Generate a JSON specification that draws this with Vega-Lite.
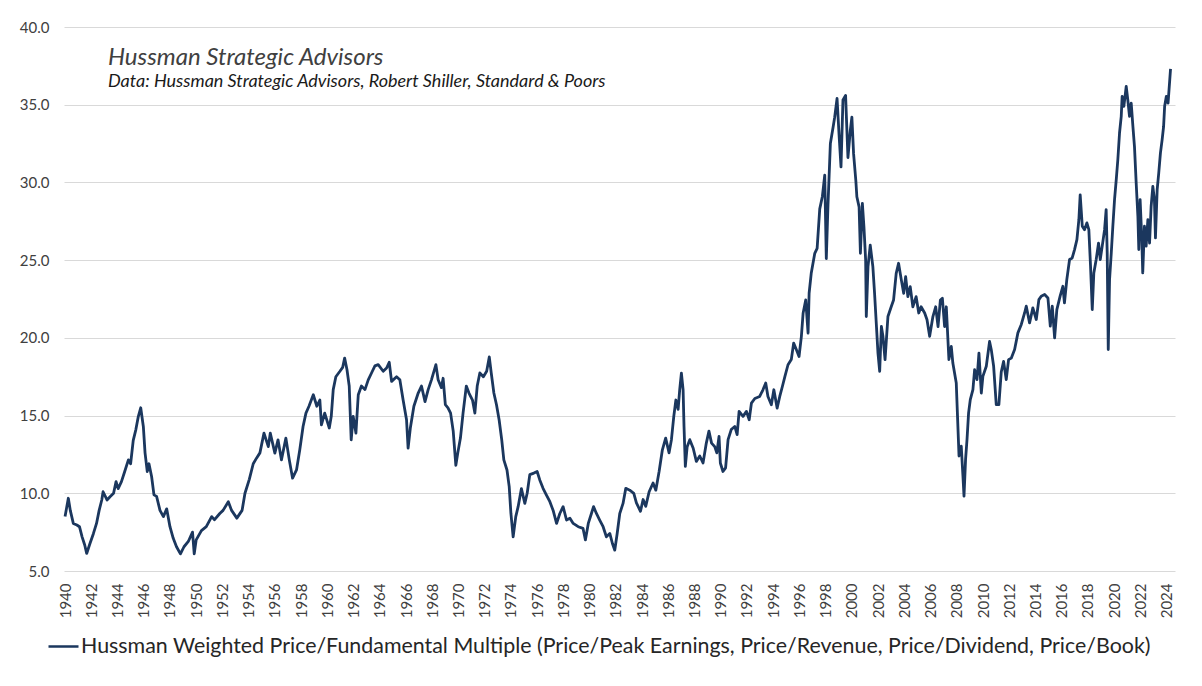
{
  "$schema": "https://vega.github.io/schema/vega-lite/v6.json",
  "width": 1111,
  "height": 544,
  "autosize": "none",
  "padding": {"left": 64, "top": 27, "right": 27, "bottom": 115},
  "background": "white",
  "config": {
    "font": "Lato",
    "view": {"stroke": null},
    "axis": {"labelFont": "Lato", "labelColor": "#404040"}
  },
  "title": {
    "text": "Hussman Strategic Advisors",
    "subtitle": "Data: Hussman Strategic Advisors, Robert Shiller, Standard & Poors",
    "anchor": "start",
    "frame": "group",
    "orient": "top",
    "offset": -71,
    "dx": 44,
    "font": "Lato",
    "fontSize": 24,
    "fontStyle": "italic",
    "fontWeight": "normal",
    "color": "#404040",
    "subtitleFont": "Lato",
    "subtitleFontSize": 18,
    "subtitleFontStyle": "italic",
    "subtitleColor": "#1a1a1a",
    "subtitlePadding": 3
  },
  "data": {
    "values": [
      {"year": 1940.0, "value": 8.5}, {"year": 1940.25, "value": 9.68}, {"year": 1940.4, "value": 8.9}, {"year": 1940.63, "value": 8.06}, {"year": 1940.9, "value": 7.96}, {"year": 1941.1, "value": 7.85}, {"year": 1941.3, "value": 7.2}, {"year": 1941.5, "value": 6.67}, {"year": 1941.65, "value": 6.13}, {"year": 1941.9, "value": 6.77}, {"year": 1942.16, "value": 7.4}, {"year": 1942.4, "value": 8.06}, {"year": 1942.6, "value": 8.9}, {"year": 1942.8, "value": 9.57}, {"year": 1942.9, "value": 10.1}, {"year": 1943.2, "value": 9.57}, {"year": 1943.43, "value": 9.78}, {"year": 1943.7, "value": 10.0}, {"year": 1943.89, "value": 10.75}, {"year": 1944.05, "value": 10.3}, {"year": 1944.3, "value": 10.75}, {"year": 1944.55, "value": 11.4}, {"year": 1944.83, "value": 12.15}, {"year": 1945.0, "value": 11.9}, {"year": 1945.2, "value": 13.4}, {"year": 1945.4, "value": 14.1}, {"year": 1945.59, "value": 14.95}, {"year": 1945.77, "value": 15.5}, {"year": 1945.97, "value": 14.3}, {"year": 1946.1, "value": 12.6}, {"year": 1946.27, "value": 11.4}, {"year": 1946.4, "value": 11.9}, {"year": 1946.6, "value": 11.08}, {"year": 1946.78, "value": 9.9}, {"year": 1946.98, "value": 9.8}, {"year": 1947.24, "value": 8.9}, {"year": 1947.5, "value": 8.5}, {"year": 1947.75, "value": 9.0}, {"year": 1948.0, "value": 7.85}, {"year": 1948.25, "value": 7.1}, {"year": 1948.5, "value": 6.56}, {"year": 1948.8, "value": 6.1}, {"year": 1949.07, "value": 6.56}, {"year": 1949.4, "value": 6.9}, {"year": 1949.72, "value": 7.5}, {"year": 1949.85, "value": 6.1}, {"year": 1950.0, "value": 7.0}, {"year": 1950.4, "value": 7.6}, {"year": 1950.77, "value": 7.85}, {"year": 1951.18, "value": 8.5}, {"year": 1951.4, "value": 8.3}, {"year": 1951.8, "value": 8.7}, {"year": 1952.05, "value": 8.9}, {"year": 1952.45, "value": 9.46}, {"year": 1952.7, "value": 8.9}, {"year": 1953.1, "value": 8.4}, {"year": 1953.5, "value": 8.9}, {"year": 1953.72, "value": 10.0}, {"year": 1954.05, "value": 10.9}, {"year": 1954.35, "value": 11.9}, {"year": 1954.6, "value": 12.26}, {"year": 1954.86, "value": 12.6},
      {"year": 1955.17, "value": 13.87}, {"year": 1955.5, "value": 13.0}, {"year": 1955.65, "value": 13.87}, {"year": 1956.0, "value": 12.58}, {"year": 1956.24, "value": 13.44}, {"year": 1956.5, "value": 12.15}, {"year": 1956.84, "value": 13.55}, {"year": 1957.1, "value": 12.15}, {"year": 1957.35, "value": 10.97}, {"year": 1957.65, "value": 11.5}, {"year": 1957.9, "value": 12.8}, {"year": 1958.15, "value": 14.3}, {"year": 1958.37, "value": 15.16}, {"year": 1958.6, "value": 15.6}, {"year": 1958.93, "value": 16.34}, {"year": 1959.2, "value": 15.6}, {"year": 1959.43, "value": 16.0}, {"year": 1959.55, "value": 14.4}, {"year": 1959.8, "value": 15.16}, {"year": 1960.15, "value": 14.2}, {"year": 1960.3, "value": 14.95}, {"year": 1960.45, "value": 16.67}, {"year": 1960.65, "value": 17.5}, {"year": 1960.96, "value": 17.85}, {"year": 1961.17, "value": 18.1}, {"year": 1961.32, "value": 18.7}, {"year": 1961.5, "value": 17.95}, {"year": 1961.67, "value": 16.9}, {"year": 1961.82, "value": 13.44}, {"year": 1961.97, "value": 14.95}, {"year": 1962.18, "value": 13.87}, {"year": 1962.36, "value": 16.34}, {"year": 1962.6, "value": 16.9}, {"year": 1962.87, "value": 16.67}, {"year": 1963.12, "value": 17.3}, {"year": 1963.37, "value": 17.74}, {"year": 1963.63, "value": 18.2}, {"year": 1963.88, "value": 18.28}, {"year": 1964.26, "value": 17.85}, {"year": 1964.52, "value": 18.06}, {"year": 1964.72, "value": 18.43}, {"year": 1964.9, "value": 17.2}, {"year": 1965.28, "value": 17.5}, {"year": 1965.53, "value": 17.3}, {"year": 1965.78, "value": 16.0}, {"year": 1966.04, "value": 14.73}, {"year": 1966.16, "value": 12.9}, {"year": 1966.33, "value": 14.2}, {"year": 1966.6, "value": 15.6}, {"year": 1966.93, "value": 16.45}, {"year": 1967.18, "value": 16.9}, {"year": 1967.45, "value": 15.9}, {"year": 1967.69, "value": 16.67}, {"year": 1967.94, "value": 17.3}, {"year": 1968.28, "value": 18.28}, {"year": 1968.45, "value": 17.3}, {"year": 1968.7, "value": 16.8}, {"year": 1968.83, "value": 17.4}, {"year": 1969.0, "value": 15.7}, {"year": 1969.2, "value": 15.5}, {"year": 1969.4, "value": 15.16}, {"year": 1969.6, "value": 14.0}, {"year": 1969.8, "value": 11.8}, {"year": 1969.95, "value": 12.6}, {"year": 1970.15, "value": 13.55}, {"year": 1970.35, "value": 15.16}, {"year": 1970.6, "value": 16.9}, {"year": 1970.8, "value": 16.45}, {"year": 1971.07, "value": 16.0}, {"year": 1971.25, "value": 15.16}, {"year": 1971.43, "value": 16.9}, {"year": 1971.63, "value": 17.74}, {"year": 1971.9, "value": 17.5}, {"year": 1972.15, "value": 17.85}, {"year": 1972.35, "value": 18.77}, {"year": 1972.5, "value": 17.74}, {"year": 1972.7, "value": 16.45}, {"year": 1972.9, "value": 15.7}, {"year": 1973.1, "value": 14.73}, {"year": 1973.3, "value": 13.44}, {"year": 1973.46, "value": 12.15}, {"year": 1973.7, "value": 11.5}, {"year": 1973.87, "value": 10.43}, {"year": 1974.0, "value": 8.7}, {"year": 1974.17, "value": 7.2}, {"year": 1974.37, "value": 8.5}, {"year": 1974.55, "value": 9.14}, {"year": 1974.8, "value": 10.3}, {"year": 1975.06, "value": 9.35}, {"year": 1975.24, "value": 10.0}, {"year": 1975.44, "value": 11.2}, {"year": 1975.75, "value": 11.3}, {"year": 1976.0, "value": 11.4}, {"year": 1976.2, "value": 10.86}, {"year": 1976.45, "value": 10.32}, {"year": 1976.7, "value": 9.9}, {"year": 1976.97, "value": 9.46}, {"year": 1977.22, "value": 8.9}, {"year": 1977.48, "value": 8.06}, {"year": 1977.73, "value": 8.7}, {"year": 1977.98, "value": 9.14}, {"year": 1978.24, "value": 8.28}, {"year": 1978.5, "value": 8.39}, {"year": 1978.75, "value": 8.06}, {"year": 1979.13, "value": 7.85}, {"year": 1979.5, "value": 7.74}, {"year": 1979.68, "value": 7.0}, {"year": 1979.9, "value": 8.06}, {"year": 1980.14, "value": 8.7}, {"year": 1980.3, "value": 9.14}, {"year": 1980.52, "value": 8.7}, {"year": 1980.77, "value": 8.28}, {"year": 1981.03, "value": 7.85}, {"year": 1981.28, "value": 7.2}, {"year": 1981.54, "value": 7.42}, {"year": 1981.74, "value": 6.77}, {"year": 1981.92, "value": 6.34}, {"year": 1982.1, "value": 7.4}, {"year": 1982.3, "value": 8.7}, {"year": 1982.55, "value": 9.35}, {"year": 1982.76, "value": 10.32}, {"year": 1983.06, "value": 10.2}, {"year": 1983.37, "value": 10.0}, {"year": 1983.57, "value": 9.38}, {"year": 1983.88, "value": 8.84}, {"year": 1984.08, "value": 9.6}, {"year": 1984.28, "value": 9.16}, {"year": 1984.54, "value": 10.1}, {"year": 1984.84, "value": 10.66}, {"year": 1985.05, "value": 10.2}, {"year": 1985.3, "value": 11.4}, {"year": 1985.55, "value": 12.8}, {"year": 1985.8, "value": 13.55}, {"year": 1986.06, "value": 12.6}, {"year": 1986.24, "value": 13.45}, {"year": 1986.42, "value": 14.95}, {"year": 1986.58, "value": 16.0}, {"year": 1986.75, "value": 15.4}, {"year": 1986.87, "value": 16.66}, {"year": 1987.0, "value": 17.73}, {"year": 1987.13, "value": 16.66}, {"year": 1987.2, "value": 14.3}, {"year": 1987.3, "value": 11.73}, {"year": 1987.44, "value": 13.0}, {"year": 1987.64, "value": 13.45}, {"year": 1987.9, "value": 12.9}, {"year": 1988.14, "value": 12.05}, {"year": 1988.4, "value": 12.4}, {"year": 1988.65, "value": 11.95}, {"year": 1988.9, "value": 13.23}, {"year": 1989.1, "value": 14.0}, {"year": 1989.3, "value": 13.23}, {"year": 1989.54, "value": 13.0}, {"year": 1989.7, "value": 12.6}, {"year": 1989.87, "value": 13.66}, {"year": 1989.97, "value": 11.95}, {"year": 1990.17, "value": 11.4}, {"year": 1990.37, "value": 11.63}, {"year": 1990.56, "value": 13.45}, {"year": 1990.8, "value": 14.1}, {"year": 1991.07, "value": 14.3}, {"year": 1991.25, "value": 13.77}, {"year": 1991.4, "value": 15.27}, {"year": 1991.7, "value": 14.95}, {"year": 1991.96, "value": 15.27}, {"year": 1992.17, "value": 14.73}, {"year": 1992.34, "value": 15.8}, {"year": 1992.6, "value": 16.1}, {"year": 1992.97, "value": 16.23}, {"year": 1993.22, "value": 16.66}, {"year": 1993.43, "value": 17.1}, {"year": 1993.6, "value": 16.23}, {"year": 1993.86, "value": 15.7}, {"year": 1994.05, "value": 16.66}, {"year": 1994.3, "value": 15.48}, {"year": 1994.5, "value": 16.23}, {"year": 1994.7, "value": 16.87}, {"year": 1994.89, "value": 17.5}, {"year": 1995.13, "value": 18.27}, {"year": 1995.38, "value": 18.6}, {"year": 1995.56, "value": 19.66}, {"year": 1995.77, "value": 19.23}, {"year": 1995.97, "value": 18.8}, {"year": 1996.15, "value": 20.1}, {"year": 1996.28, "value": 21.58}, {"year": 1996.48, "value": 22.44}, {"year": 1996.66, "value": 20.3}, {"year": 1996.74, "value": 22.87}, {"year": 1996.9, "value": 24.15}, {"year": 1997.17, "value": 25.44}, {"year": 1997.35, "value": 25.76}, {"year": 1997.55, "value": 28.3}, {"year": 1997.75, "value": 29.1}, {"year": 1997.93, "value": 30.47}, {"year": 1998.05, "value": 25.1}, {"year": 1998.18, "value": 28.6}, {"year": 1998.36, "value": 32.5}, {"year": 1998.57, "value": 33.57}, {"year": 1998.69, "value": 34.2}, {"year": 1998.87, "value": 35.4}, {"year": 1999.02, "value": 33.1}, {"year": 1999.17, "value": 31.0}, {"year": 1999.32, "value": 35.3}, {"year": 1999.52, "value": 35.6}, {"year": 1999.7, "value": 31.6}, {"year": 1999.88, "value": 33.35}, {"year": 2000.0, "value": 34.2}, {"year": 2000.13, "value": 31.85}, {"year": 2000.3, "value": 30.14}, {"year": 2000.38, "value": 29.08}, {"year": 2000.55, "value": 28.43}, {"year": 2000.65, "value": 25.44}, {"year": 2000.8, "value": 28.65}, {"year": 2000.92, "value": 27.15}, {"year": 2001.05, "value": 25.0}, {"year": 2001.1, "value": 21.37}, {"year": 2001.23, "value": 24.58}, {"year": 2001.4, "value": 25.97}, {"year": 2001.6, "value": 24.58}, {"year": 2001.73, "value": 22.87}, {"year": 2001.86, "value": 20.95}, {"year": 2001.99, "value": 19.02}, {"year": 2002.12, "value": 17.85}, {"year": 2002.25, "value": 20.73}, {"year": 2002.37, "value": 20.1}, {"year": 2002.53, "value": 18.6}, {"year": 2002.75, "value": 21.37}, {"year": 2003.0, "value": 22.0}, {"year": 2003.18, "value": 22.44}, {"year": 2003.38, "value": 24.15}, {"year": 2003.56, "value": 24.8}, {"year": 2003.77, "value": 23.73}, {"year": 2003.95, "value": 22.87}, {"year": 2004.1, "value": 23.94}, {"year": 2004.27, "value": 22.65}, {"year": 2004.45, "value": 23.3}, {"year": 2004.65, "value": 22.0}, {"year": 2004.9, "value": 22.65}, {"year": 2005.1, "value": 21.6}, {"year": 2005.28, "value": 22.0}, {"year": 2005.55, "value": 21.6}, {"year": 2005.73, "value": 21.16}, {"year": 2005.93, "value": 20.1}, {"year": 2006.18, "value": 21.37}, {"year": 2006.39, "value": 22.0}, {"year": 2006.57, "value": 20.73}, {"year": 2006.75, "value": 22.44}, {"year": 2006.9, "value": 22.55}, {"year": 2007.07, "value": 20.73}, {"year": 2007.2, "value": 22.0}, {"year": 2007.4, "value": 18.6}, {"year": 2007.58, "value": 19.45}, {"year": 2007.7, "value": 18.38}, {"year": 2007.83, "value": 17.74}, {"year": 2007.96, "value": 17.1}, {"year": 2008.17, "value": 12.4}, {"year": 2008.34, "value": 13.03}, {"year": 2008.47, "value": 11.1}, {"year": 2008.55, "value": 9.82}, {"year": 2008.67, "value": 12.18}, {"year": 2008.78, "value": 13.46}, {"year": 2008.9, "value": 15.17}, {"year": 2009.03, "value": 16.03}, {"year": 2009.23, "value": 16.67}, {"year": 2009.36, "value": 17.95}, {"year": 2009.54, "value": 17.31}, {"year": 2009.69, "value": 19.02}, {"year": 2009.87, "value": 16.45}, {"year": 2009.99, "value": 17.52}, {"year": 2010.25, "value": 18.17}, {"year": 2010.5, "value": 19.77}, {"year": 2010.63, "value": 19.24}, {"year": 2010.81, "value": 18.17}, {"year": 2011.01, "value": 15.7}, {"year": 2011.21, "value": 15.7}, {"year": 2011.39, "value": 17.8}, {"year": 2011.57, "value": 18.49}, {"year": 2011.77, "value": 17.31}, {"year": 2011.95, "value": 18.6}, {"year": 2012.16, "value": 18.7}, {"year": 2012.41, "value": 19.25}, {"year": 2012.66, "value": 20.32}, {"year": 2012.92, "value": 20.86}, {"year": 2013.17, "value": 21.6}, {"year": 2013.3, "value": 22.04}, {"year": 2013.55, "value": 20.96}, {"year": 2013.8, "value": 21.93}, {"year": 2014.06, "value": 21.18}, {"year": 2014.26, "value": 22.46}, {"year": 2014.44, "value": 22.68}, {"year": 2014.7, "value": 22.79}, {"year": 2014.95, "value": 22.57}, {"year": 2015.13, "value": 20.75}, {"year": 2015.28, "value": 22.04}, {"year": 2015.46, "value": 20.0}, {"year": 2015.63, "value": 21.82}, {"year": 2015.88, "value": 22.68}, {"year": 2016.09, "value": 23.32}, {"year": 2016.21, "value": 22.25}, {"year": 2016.39, "value": 23.75}, {"year": 2016.6, "value": 25.04}, {"year": 2016.8, "value": 25.14}, {"year": 2016.98, "value": 25.68}, {"year": 2017.16, "value": 26.32}, {"year": 2017.31, "value": 27.6}, {"year": 2017.41, "value": 29.2}, {"year": 2017.57, "value": 27.18}, {"year": 2017.74, "value": 26.96}, {"year": 2017.92, "value": 27.4}, {"year": 2018.07, "value": 26.96}, {"year": 2018.2, "value": 24.6}, {"year": 2018.33, "value": 21.82}, {"year": 2018.45, "value": 24.18}, {"year": 2018.63, "value": 25.04}, {"year": 2018.81, "value": 26.1}, {"year": 2018.94, "value": 25.04}, {"year": 2019.09, "value": 25.9}, {"year": 2019.27, "value": 26.96}, {"year": 2019.39, "value": 28.25}, {"year": 2019.47, "value": 25.46}, {"year": 2019.55, "value": 19.25}, {"year": 2019.65, "value": 23.75}, {"year": 2019.78, "value": 25.46}, {"year": 2019.9, "value": 27.18}, {"year": 2020.03, "value": 28.9}, {"year": 2020.16, "value": 30.18}, {"year": 2020.28, "value": 31.46}, {"year": 2020.41, "value": 33.18}, {"year": 2020.54, "value": 34.25}, {"year": 2020.61, "value": 35.54}, {"year": 2020.74, "value": 34.89}, {"year": 2020.92, "value": 36.18}, {"year": 2021.04, "value": 35.32}, {"year": 2021.17, "value": 34.25}, {"year": 2021.3, "value": 35.1}, {"year": 2021.43, "value": 33.6}, {"year": 2021.55, "value": 32.3}, {"year": 2021.68, "value": 29.96}, {"year": 2021.81, "value": 27.82}, {"year": 2021.88, "value": 25.68}, {"year": 2021.98, "value": 28.9}, {"year": 2022.11, "value": 26.32}, {"year": 2022.18, "value": 24.18}, {"year": 2022.31, "value": 27.18}, {"year": 2022.44, "value": 25.9}, {"year": 2022.57, "value": 27.6}, {"year": 2022.7, "value": 26.1}, {"year": 2022.82, "value": 28.46}, {"year": 2022.95, "value": 29.75}, {"year": 2023.07, "value": 28.9}, {"year": 2023.15, "value": 26.43}, {"year": 2023.28, "value": 29.54}, {"year": 2023.4, "value": 30.6}, {"year": 2023.53, "value": 31.9}, {"year": 2023.66, "value": 32.75}, {"year": 2023.77, "value": 33.6}, {"year": 2023.85, "value": 34.9}, {"year": 2023.98, "value": 35.54}, {"year": 2024.11, "value": 35.1}, {"year": 2024.24, "value": 36.6}, {"year": 2024.3, "value": 37.3}
    ]
  },
  "transform": [
    {"calculate": "'Hussman Weighted Price/Fundamental Multiple (Price/Peak Earnings, Price/Revenue, Price/Dividend, Price/Book)'", "as": "series"}
  ],
  "mark": {"type": "line", "strokeWidth": 2.8, "strokeJoin": "round"},
  "encoding": {
    "x": {
      "field": "year",
      "type": "quantitative",
      "scale": {"domain": [1939.92, 2024.64], "nice": false, "zero": false},
      "axis": {
        "title": null,
        "values": [1940, 1942, 1944, 1946, 1948, 1950, 1952, 1954, 1956, 1958, 1960, 1962, 1964, 1966, 1968, 1970, 1972, 1974, 1976, 1978, 1980, 1982, 1984, 1986, 1988, 1990, 1992, 1994, 1996, 1998, 2000, 2002, 2004, 2006, 2008, 2010, 2012, 2014, 2016, 2018, 2020, 2022, 2024],
        "format": "d",
        "labelAngle": -90,
        "labelFontSize": 15,
        "labelPadding": 12,
        "labelOverlap": false,
        "labelFlush": false,
        "ticks": false,
        "domain": false,
        "grid": false
      }
    },
    "y": {
      "field": "value",
      "type": "quantitative",
      "scale": {"domain": [5, 40], "nice": false, "zero": false},
      "axis": {
        "title": null,
        "values": [5, 10, 15, 20, 25, 30, 35, 40],
        "format": ".1f",
        "labelFontSize": 15,
        "labelPadding": 15,
        "ticks": false,
        "domain": false,
        "grid": true,
        "gridColor": "#d9d9d9",
        "gridWidth": 1
      }
    },
    "color": {
      "field": "series",
      "type": "nominal",
      "scale": {"range": ["#1b375e"]},
      "legend": {
        "title": null,
        "orient": "none",
        "legendX": -17,
        "legendY": 603,
        "padding": 0,
        "symbolType": "stroke",
        "symbolSize": 900,
        "symbolStrokeWidth": 2.5,
        "labelFont": "Lato",
        "labelFontSize": 21.4,
        "labelColor": "#262626",
        "labelLimit": 0,
        "labelOffset": 1
      }
    }
  }
}
